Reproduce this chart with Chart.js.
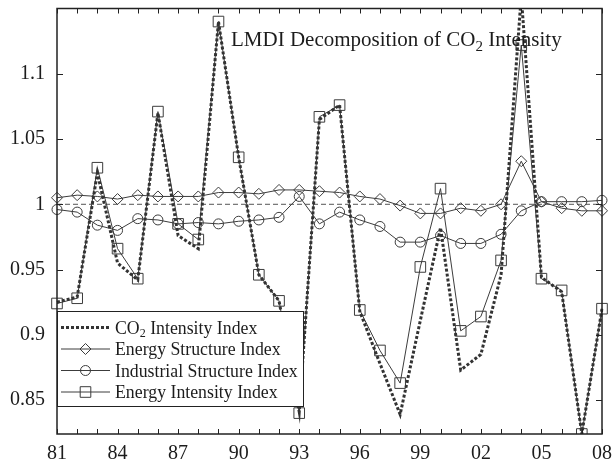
<!DOCTYPE html>
<html>
<head>
<meta charset="utf-8">
<script src="https://cdn.jsdelivr.net/npm/chart.js@4.4.1/dist/chart.umd.min.js"></script>
<style>
  html, body { margin: 0; padding: 0; background: #fff; }
  #wrap { width: 612px; height: 466px; }
</style>
</head>
<body>
<div id="wrap"><canvas id="lmdiChart" width="612" height="466"></canvas></div>
<script>
// years 1981-2008, shown as two digits
const years = ['81','82','83','84','85','86','87','88','89','90','91','92','93','94',
               '95','96','97','98','99','00','01','02','03','04','05','06','07','08'];
const xTickLabels = ['81','84','87','90','93','96','99','02','05','08'];
const yTickValues = [0.85, 0.9, 0.95, 1, 1.05, 1.1];
const refValue = 1;

const seriesNames = ['CO2 Intensity Index', 'Energy Structure Index',
                     'Industrial Structure Index', 'Energy Intensity Index'];

const co2Intensity = [0.925, 0.929, 1.024, 0.955, 0.942, 1.070, 0.976, 0.966, 1.140, 1.036,
                      0.946, 0.926, 0.841, 1.065, 1.076, 0.918, 0.878, 0.839, 0.911, 0.982,
                      0.873, 0.885, 0.946, 1.160, 0.944, 0.933, 0.824, 0.920];
const energyStructure = [1.005, 1.007, 1.006, 1.004, 1.007, 1.006, 1.006, 1.006, 1.009, 1.009,
                         1.008, 1.011, 1.011, 1.010, 1.009, 1.006, 1.004, 0.999, 0.993, 0.993,
                         0.997, 0.995, 1.000, 1.033, 1.002, 0.997, 0.995, 0.995];
const industrialStructure = [0.996, 0.994, 0.984, 0.980, 0.989, 0.988, 0.985, 0.986, 0.985, 0.987,
                             0.988, 0.990, 1.006, 0.985, 0.994, 0.988, 0.983, 0.971, 0.971, 0.976,
                             0.970, 0.970, 0.977, 0.995, 1.002, 1.002, 1.002, 1.003];
const energyIntensity = [0.924, 0.928, 1.028, 0.966, 0.943, 1.071, 0.985, 0.973, 1.140, 1.036,
                         0.946, 0.926, 0.840, 1.067, 1.076, 0.919, 0.888, 0.863, 0.952, 1.012,
                         0.903, 0.914, 0.957, 1.122, 0.943, 0.934, 0.824, 0.920];

const ink = '#3c3c3c';
const textColor = '#1c1c1c';
const serif = "'Liberation Serif', 'Times New Roman', serif";

// text with "CO2" written with a subscript 2
function drawSubText(ctx, text, x, y, size) {
    const pieces = text.split('CO2');
    ctx.font = size + 'px ' + serif;
    ctx.textBaseline = 'alphabetic';
    ctx.textAlign = 'left';
    let cx = x;
    pieces.forEach((p, i) => {
        if (i > 0) {
            ctx.font = size + 'px ' + serif;
            ctx.fillText('CO', cx, y);
            cx += ctx.measureText('CO').width;
            ctx.font = Math.round(size * 0.7) + 'px ' + serif;
            ctx.fillText('2', cx, y + size * 0.22);
            cx += ctx.measureText('2').width;
            ctx.font = size + 'px ' + serif;
        }
        ctx.fillText(p, cx, y);
        cx += ctx.measureText(p).width;
    });
}

function drawMarker(ctx, style, x, y, r) {
    ctx.beginPath();
    if (style === 'circle') {
        ctx.arc(x, y, r, 0, Math.PI * 2);
    } else if (style === 'rectRot') {
        ctx.moveTo(x, y - r); ctx.lineTo(x + r, y); ctx.lineTo(x, y + r); ctx.lineTo(x - r, y);
        ctx.closePath();
    } else if (style === 'rect') {
        const s = r * Math.SQRT1_2;
        ctx.rect(x - s, y - s, 2 * s, 2 * s);
    }
    ctx.stroke();
}

const decorations = {
    id: 'decorations',
    beforeDatasetsDraw(chart) {
        const { ctx, chartArea: a, scales: { y } } = chart;
        const py = y.getPixelForValue(refValue);
        ctx.save();
        ctx.strokeStyle = '#555';
        ctx.lineWidth = 1;
        ctx.setLineDash([5, 3]);
        ctx.beginPath();
        ctx.moveTo(a.left, py);
        ctx.lineTo(a.right, py);
        ctx.stroke();
        ctx.restore();
    },
    afterDatasetsDraw(chart) {
        const { ctx, chartArea: a, scales: { x, y } } = chart;
        ctx.save();
        ctx.strokeStyle = '#222';
        ctx.lineWidth = 1;
        // inward ticks
        ctx.beginPath();
        years.forEach((_, i) => {
            const px = Math.round(x.getPixelForValue(i)) + 0.5;
            ctx.moveTo(px, a.top); ctx.lineTo(px, a.top + 5);
            ctx.moveTo(px, a.bottom); ctx.lineTo(px, a.bottom - 5);
        });
        yTickValues.forEach(v => {
            const py = Math.round(y.getPixelForValue(v)) + 0.5;
            ctx.moveTo(a.left, py); ctx.lineTo(a.left + 6, py);
            ctx.moveTo(a.right, py); ctx.lineTo(a.right - 6, py);
        });
        ctx.stroke();

        // frame
        ctx.lineWidth = 1.5;
        ctx.strokeRect(a.left, a.top, a.right - a.left, a.bottom - a.top);

        // title inside the plot
        ctx.fillStyle = textColor;
        drawSubText(ctx, 'LMDI Decomposition of CO2 Intensity', 231, 46, 21);

        // legend box
        const lx = a.left, ly = 311, lw = 246, lh = 95;
        ctx.fillStyle = '#fff';
        ctx.fillRect(lx, ly, lw, lh);
        ctx.lineWidth = 1;
        ctx.strokeStyle = '#222';
        ctx.strokeRect(lx + 0.5, ly + 0.5, lw, lh);

        const rowY = [327.5, 349, 370.5, 392];
        chart.data.datasets.forEach((ds, i) => {
            const yy = rowY[i];
            ctx.save();
            ctx.strokeStyle = ds.borderColor;
            ctx.lineWidth = ds.borderWidth;
            ctx.setLineDash(ds.borderDash || []);
            ctx.beginPath();
            ctx.moveTo(61, yy);
            ctx.lineTo(110, yy);
            ctx.stroke();
            ctx.setLineDash([]);
            if (ds.pointRadius > 0) {
                ctx.lineWidth = 1;
                ctx.fillStyle = '#fff';
                drawMarker(ctx, ds.pointStyle, 85.5, yy, ds.pointRadius);
            }
            ctx.restore();
            ctx.fillStyle = textColor;
            drawSubText(ctx, seriesNames[i], 115, yy + 6, 17.8);
        });
        ctx.restore();
    }
};

new Chart(document.getElementById('lmdiChart'), {
    type: 'line',
    data: {
        labels: years,
        datasets: [
            {
                label: seriesNames[0],
                data: co2Intensity,
                borderColor: '#333',
                borderWidth: 3,
                borderDash: [3, 2],
                pointRadius: 0,
                tension: 0,
                fill: false
            },
            {
                label: seriesNames[1],
                data: energyStructure,
                borderColor: ink,
                borderWidth: 1,
                pointStyle: 'rectRot',
                pointRadius: 5.5,
                pointBorderColor: ink,
                pointBackgroundColor: 'rgba(0,0,0,0)',
                pointBorderWidth: 1,
                tension: 0,
                fill: false
            },
            {
                label: seriesNames[2],
                data: industrialStructure,
                borderColor: ink,
                borderWidth: 1,
                pointStyle: 'circle',
                pointRadius: 5,
                pointBorderColor: ink,
                pointBackgroundColor: 'rgba(0,0,0,0)',
                pointBorderWidth: 1,
                tension: 0,
                fill: false
            },
            {
                label: seriesNames[3],
                data: energyIntensity,
                borderColor: ink,
                borderWidth: 1,
                pointStyle: 'rect',
                pointRadius: 7.5,
                pointBorderColor: ink,
                pointBackgroundColor: 'rgba(0,0,0,0)',
                pointBorderWidth: 1,
                tension: 0,
                fill: false
            }
        ]
    },
    options: {
        responsive: false,
        animation: false,
        devicePixelRatio: 1,
        layout: { padding: { left: 0, right: 10, top: 5, bottom: 0 } },
        plugins: {
            legend: { display: false },
            tooltip: { enabled: false }
        },
        scales: {
            x: {
                type: 'category',
                offset: false,
                grid: { display: false, drawTicks: false },
                border: { display: false },
                ticks: {
                    autoSkip: false,
                    maxRotation: 0,
                    padding: 8,
                    color: textColor,
                    font: { family: serif, size: 20 },
                    callback: function (value, index) {
                        const lab = years[index];
                        return xTickLabels.includes(lab) ? lab : '';
                    }
                },
                afterFit: scale => {
                    scale.height = 32;
                    scale.paddingLeft = 0;
                    scale.paddingRight = 0;
                }
            },
            y: {
                min: 0.824,
                max: 1.15,
                grid: { display: false, drawTicks: false },
                border: { display: false },
                afterBuildTicks: scale => {
                    scale.ticks = yTickValues.map(v => ({ value: v }));
                },
                ticks: {
                    padding: 12,
                    color: textColor,
                    font: { family: serif, size: 20 },
                    callback: v => String(+v.toFixed(2))
                },
                afterFit: scale => {
                    scale.width = 57;
                    scale.paddingTop = 0;
                    scale.paddingBottom = 0;
                }
            }
        }
    },
    plugins: [decorations]
});
</script>
</body>
</html>
